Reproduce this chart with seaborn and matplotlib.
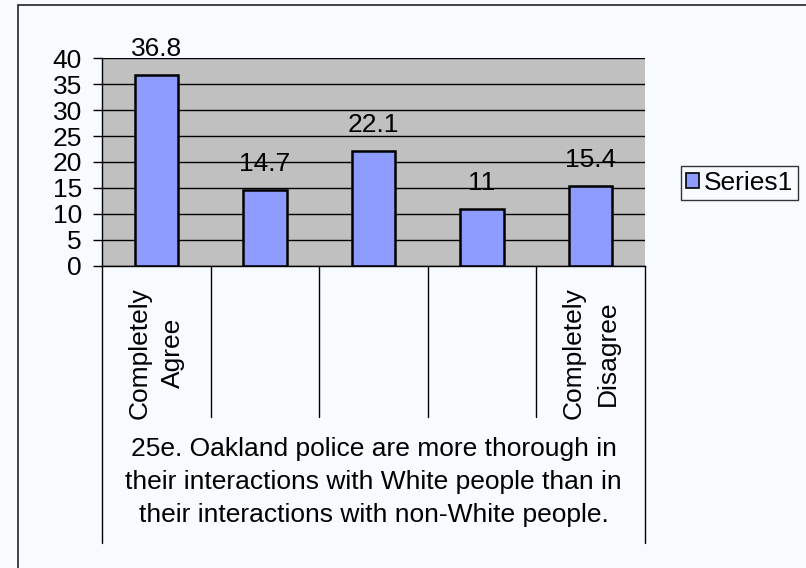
import matplotlib
matplotlib.use('Agg')
import matplotlib.pyplot as plt
import matplotlib.transforms as mtransforms
from matplotlib.lines import Line2D
from matplotlib.patches import Rectangle, Patch
import seaborn as sns
import pandas as pd

# ---- data ----
categories = ['Completely\nAgree', '', '', '', 'Completely\nDisagree']
values = [36.8, 14.7, 22.1, 11, 15.4]
value_labels = ['36.8', '14.7', '22.1', '11', '15.4']
yticks = [0, 5, 10, 15, 20, 25, 30, 35, 40]
series_name = 'Series1'
title = ('25e. Oakland police are more thorough in\n'
         'their interactions with White people than in\n'
         'their interactions with non-White people.')

# ---- style ----
W, H = 806, 568
BG = '#F7FBFF'
BAR = '#8F9CFF'
PLOT_BG = '#C0C0C0'
FS = 19

sns.set_style('white')
plt.rcParams['font.family'] = ['Liberation Sans', 'DejaVu Sans']
plt.rcParams['text.color'] = 'black'
plt.rcParams['ytick.color'] = 'black'
plt.rcParams['ytick.labelcolor'] = 'black'

fig = plt.figure(figsize=(W / 100, H / 100), dpi=100, facecolor=BG)
L, R, T, B = 102, 645, 58, 266
ax = fig.add_axes([L / W, 1 - B / H, (R - L) / W, (B - T) / H])
ax.set_facecolor(PLOT_BG)

df = pd.DataFrame({'pos': list(range(len(values))), 'value': values})
sns.barplot(data=df, x='pos', y='value', ax=ax, color=BAR, width=0.4,
            edgecolor='black', linewidth=1.8, saturation=1, errorbar=None)

ax.set_ylim(0, 40)
ax.set_xlim(-0.5, len(values) - 0.5)
ax.set_yticks(yticks)
ax.set_yticklabels([str(t) for t in yticks])
ax.set_xticks([])
ax.set_xlabel('')
ax.set_ylabel('')
ax.tick_params(axis='y', direction='out', length=6.5, width=1, color='black',
               pad=8, labelsize=FS, left=True, labelcolor='black')
ax.yaxis.grid(True, color='black', linewidth=1)
ax.set_axisbelow(True)
for s in ['top', 'right']:
    ax.spines[s].set_visible(False)
for s in ['left', 'bottom']:
    ax.spines[s].set_color('black')
    ax.spines[s].set_linewidth(1)

ax.bar_label(ax.containers[0], labels=value_labels, padding=10, fontsize=FS,
             color='black')

# category labels
trans = mtransforms.blended_transform_factory(ax.transData, fig.transFigure)
for i, c in enumerate(categories):
    if c:
        ax.text(i, 1 - 353 / H, c, transform=trans, rotation=90, ha='center',
                va='center', multialignment='center', fontsize=FS,
                linespacing=1.5, color='black')

# category separators
n = len(values)
for i in range(n + 1):
    xb = i - 0.5
    y_end = 543 if i in (0, n) else 417
    fig.add_artist(Line2D([xb, xb], [1 - B / H, 1 - y_end / H], transform=trans,
                          color='black', linewidth=1))

# axis title (category axis label)
fig.text((L + R) / 2 / W, 1 - 482 / H, title, ha='center', va='center',
         multialignment='center', fontsize=FS, linespacing=1.45, color='black')

# legend
leg = ax.legend(handles=[Patch(facecolor=BAR, edgecolor='black', linewidth=1.2,
                               label=series_name)],
                loc='center left', bbox_to_anchor=(681 / W, 1 - 183 / H),
                bbox_transform=fig.transFigure, fontsize=FS, frameon=True,
                fancybox=False, framealpha=1, edgecolor='#333333',
                facecolor=BG, handlelength=0.5, handleheight=0.5,
                handletextpad=0.15, borderpad=0.2, borderaxespad=0)
leg.get_frame().set_linewidth(1)
for t in leg.get_texts():
    t.set_color('black')

# outer chart border
fig.add_artist(Rectangle((18 / W, -0.2), 1.5, 1.2 - 5 / H, transform=fig.transFigure,
                         fill=False, edgecolor='#222222', linewidth=1.2))

fig.savefig('out.png', dpi=100, facecolor=BG)
